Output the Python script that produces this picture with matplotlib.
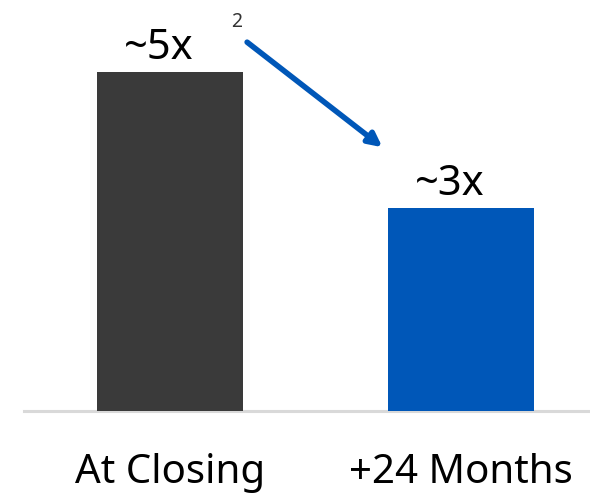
import matplotlib
matplotlib.use("Agg")
import matplotlib.pyplot as plt

categories = ["At Closing", "+24 Months"]
values = [5, 3]
value_labels = ["~5x", "~3x"]
colors = ["#3a3a3a", "#0057b8"]

plt.rcParams['font.family'] = ['Noto Sans', 'DejaVu Sans']

W, H = 590, 495
fig = plt.figure(figsize=(W/100, H/100), dpi=100)
base_px = 411
left_px = 24
ax = fig.add_axes([left_px/W, 1 - base_px/H, 1 - left_px/W, base_px/H])

unit = 291.0
xmin = -(170 - left_px)/unit
ax.set_xlim(xmin, xmin + (W - left_px)/unit)
ax.set_ylim(0, base_px/67.8)

x = list(range(len(categories)))
ax.bar(x, values, width=146/unit, color=colors, zorder=2)
ax.axhline(0, color="#d9d9d9", lw=2.2, zorder=1, clip_on=False)

for s in ax.spines.values():
    s.set_visible(False)
ax.set_yticks([])
ax.set_xticks(x)
ax.set_xticklabels(categories, fontsize=29, color="black", fontweight="light")
ax.tick_params(axis="x", length=0, pad=30)

for xi, v, lab in zip(x, values, value_labels):
    ax.annotate(lab, (xi - 0.04, v), xytext=(0, 2), textcoords="offset points",
                ha="center", va="bottom", fontsize=30, color="black",
                fontweight="light")
ax.annotate("2", (0.228, values[0]), xytext=(0, 29), textcoords="offset points",
            ha="center", va="bottom", fontsize=14, color="#333333",
            fontweight="light")

ax.annotate("", xy=(0.73, values[1] + 0.89), xytext=(0.265, values[0] + 0.44),
            arrowprops=dict(arrowstyle="-|>,head_length=0.8,head_width=0.4",
                            color="#0057b8", lw=4, shrinkA=0, shrinkB=0),
            annotation_clip=False)

fig.savefig("out.png", dpi=100)
